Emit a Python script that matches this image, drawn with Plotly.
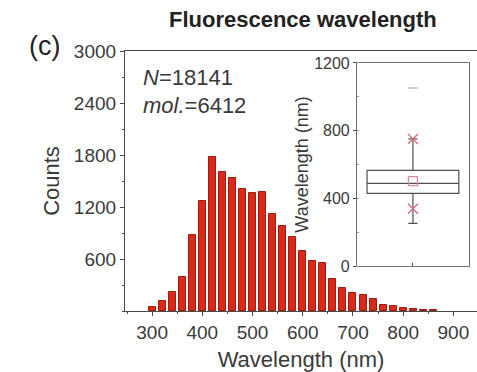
import plotly.graph_objects as go

# Histogram of fluorescence wavelengths (20 nm bins)
wavelength_bins = list(range(300, 880, 20))
counts = [46, 115, 218, 394, 875, 1273, 1777, 1605, 1536, 1403, 1357, 1372,
          1120, 978, 852, 688, 581, 554, 375, 268, 210, 183, 134, 65, 54, 38,
          27, 15, 8]

# Box-plot statistics of the same distribution (nm)
box_q1 = 429
box_median = 488
box_q3 = 565
box_lower = 252
box_upper = 751
box_mean = 502
pct_low = 338      # 1st percentile
pct_high = 751     # 99th percentile
max_value = 1052

y_ticks = [600, 1200, 1800, 2400, 3000]
x_ticks = [300, 400, 500, 600, 700, 800, 900]
inset_ticks = [0, 400, 800, 1200]

FONT = "Liberation Sans, Arial, sans-serif"
TXT = "#3a3a3a"
AX = "#4a4a4a"

fig = go.Figure()

fig.add_trace(go.Bar(
    x=wavelength_bins, y=counts, width=14,
    marker=dict(color="#dc2a1a", line=dict(color="#9a1c12", width=1)),
    xaxis="x", yaxis="y", showlegend=False,
))

fig.add_trace(go.Box(
    x=[0], q1=[box_q1], median=[box_median], q3=[box_q3],
    lowerfence=[box_lower], upperfence=[box_upper],
    width=0.82, whiskerwidth=0.1,
    fillcolor="rgba(255,255,255,0)",
    line=dict(color="#505050", width=1.2),
    xaxis="x2", yaxis="y2", showlegend=False, boxpoints=False,
))

fig.add_trace(go.Scatter(
    x=[0], y=[box_mean], mode="markers",
    marker=dict(symbol="square-open", size=9, color="#e08a96",
                line=dict(width=1.3, color="#e08a96")),
    xaxis="x2", yaxis="y2", showlegend=False,
))
fig.add_trace(go.Scatter(
    x=[0, 0], y=[pct_low, pct_high], mode="markers",
    marker=dict(symbol="x-thin-open", size=10, color="#d86a80",
                line=dict(width=1.3, color="#d86a80")),
    xaxis="x2", yaxis="y2", showlegend=False,
))
fig.add_trace(go.Scatter(
    x=[0], y=[max_value], mode="markers",
    marker=dict(symbol="line-ew-open", size=7, color="#aaaaaa",
                line=dict(width=1.2, color="#aaaaaa")),
    xaxis="x2", yaxis="y2", showlegend=False,
))

fig.update_layout(
    width=477, height=372,
    margin=dict(l=125, r=0, t=51, b=61),
    paper_bgcolor="white", plot_bgcolor="white",
    font=dict(family=FONT, color=TXT),
    bargap=0,
    title=dict(text="<b>Fluorescence wavelength</b>", xref="container",
               yref="container", x=0.635, y=0.947, xanchor="center",
               yanchor="middle", font=dict(size=22, color="#222222")),
    xaxis=dict(
        range=[246, 947], tickvals=x_ticks, ticks="outside", ticklen=4,
        tickcolor=AX, showline=True, linecolor=AX, linewidth=1.2,
        mirror=True, showgrid=False, zeroline=False,
        tickfont=dict(size=19, color=TXT),
        minor=dict(ticks="outside", ticklen=2, dtick=50, tickcolor=AX),
        title=dict(text="Wavelength (nm)", font=dict(size=22, color=TXT),
                   standoff=11),
    ),
    yaxis=dict(
        range=[0, 3000], tickvals=y_ticks, ticks="outside", ticklen=4,
        tickcolor=AX, showline=True, linecolor=AX, linewidth=1.2,
        showgrid=False, zeroline=False,
        tickfont=dict(size=19, color=TXT),
        minor=dict(ticks="outside", ticklen=2, dtick=300, tickcolor=AX),
        title=dict(text="Counts", font=dict(size=22, color=TXT), standoff=8),
    ),
    xaxis2=dict(
        domain=[0.659, 0.977], anchor="y2", range=[-0.5, 0.5],
        tickvals=[0], ticktext=[""], ticks="inside", ticklen=3,
        tickcolor=AX, showline=True, linecolor="#707070", linewidth=1,
        mirror=True, showgrid=False, zeroline=False,
    ),
    yaxis2=dict(
        domain=[0.173, 0.954], anchor="x2", range=[0, 1200],
        tickvals=inset_ticks, ticks="outside", ticklen=3,
        tickcolor=AX, showline=True, linecolor="#707070", linewidth=1,
        mirror=True, showgrid=False, zeroline=False,
        tickfont=dict(size=16, color=TXT),
        minor=dict(ticks="inside", ticklen=2, dtick=200, tickcolor="#999999"),
        title=dict(text="Wavelength (nm)", font=dict(size=18, color=TXT),
                   standoff=0),
    ),
    annotations=[
        dict(text="<i>N</i>=18141", xref="paper", yref="paper",
             x=0.046, y=0.90, xanchor="left", yanchor="middle",
             showarrow=False, font=dict(size=22, color=TXT)),
        dict(text="<i>mol.</i>=6412", xref="paper", yref="paper",
             x=0.046, y=0.792, xanchor="left", yanchor="middle",
             showarrow=False, font=dict(size=22, color=TXT)),
        dict(text="(c)", xref="paper", yref="paper",
             x=-0.23, y=1.021, xanchor="center", yanchor="middle",
             showarrow=False, font=dict(size=27, color="#222222")),
    ],
)

fig.write_html("out.html")
